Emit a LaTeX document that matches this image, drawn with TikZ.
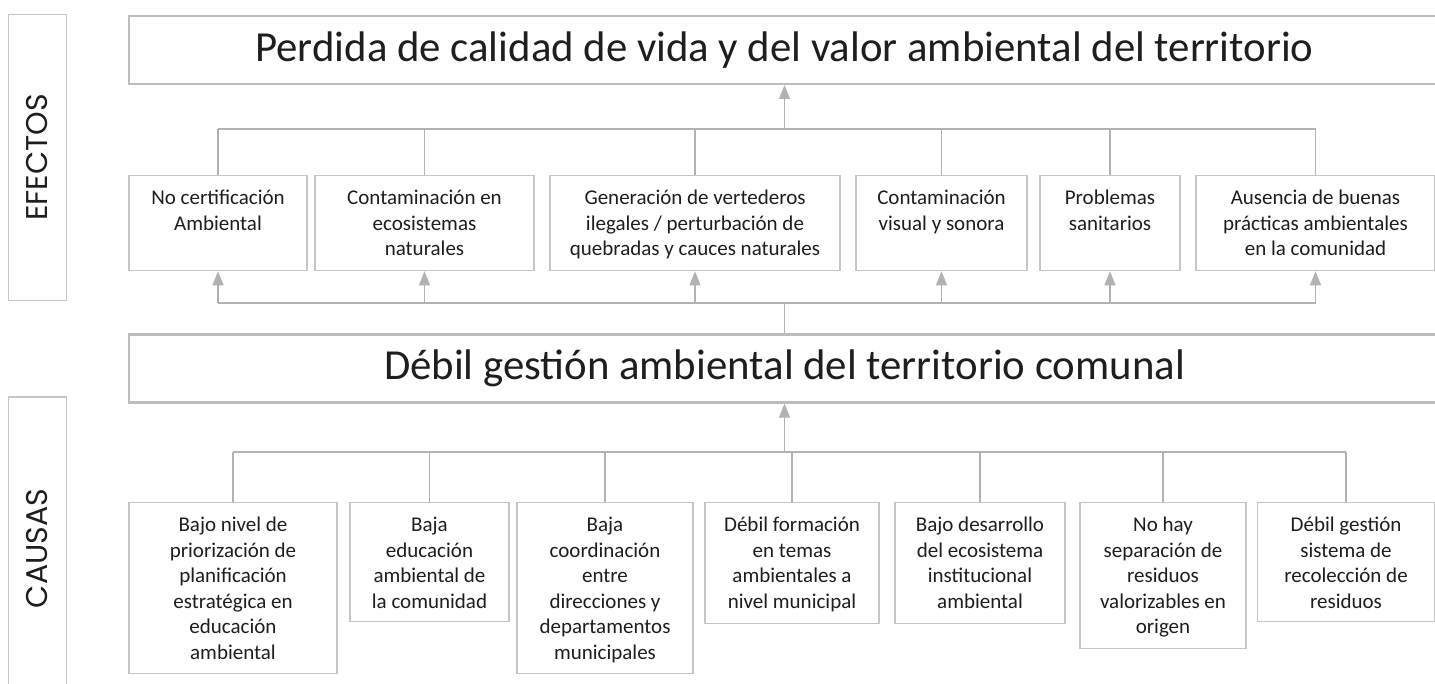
\documentclass[tikz,border=0pt]{standalone}
\usepackage{fontspec}
\setmainfont{Carlito}
\newfontfamily\lblfont{Poppins}
\usetikzlibrary{arrows.meta}
\definecolor{boxc}{HTML}{C6C6C6}
\definecolor{bigc}{HTML}{BDBDBD}
\definecolor{linec}{HTML}{B2B2B2}
\definecolor{txtc}{HTML}{1E1E1E}
\newcommand\bx[3]{\parbox[c][#2pt][t]{#1pt}{\centering\fontsize{21}{25.5}\selectfont\rule{0pt}{29pt}#3}}
\tikzset{
  smallbox/.style={draw=boxc, line width=1.3pt, anchor=north, inner sep=0pt, text=txtc},
  bigbox/.style={draw=bigc, line width=2.2pt, inner sep=0pt, minimum width=1311pt, minimum height=68pt, text=txtc, font=\fontsize{42.8}{48}\selectfont},
  sidebox/.style={draw=boxc, line width=1.3pt, inner sep=0pt, rotate=90, minimum height=58pt, text=txtc, font=\lblfont\fontsize{30}{34}\selectfont},
  conn/.style={draw=linec, line width=1.3pt},
  arr/.style={draw=linec, line width=1.3pt, -{Triangle[width=11pt,length=14pt,fill=linec]}}
}
\begin{document}
\begin{tikzpicture}[x=1pt,y=-1pt]
\useasboundingbox[fill=white] (0,0) rectangle (1435,684);
% side labels
\node[sidebox, minimum width=286pt] (ef) at (37.5,157.5) {EFECTOS};
\node[sidebox, minimum width=303pt] (ca) at (37.5,548.5) {CAUSAS};
% big boxes
\node[bigbox] (T) at (784.5,50) {Perdida de calidad de vida y del valor ambiental del territorio};
\node[bigbox] (D) at (784.5,368.5) {Débil gestión ambiental del territorio comunal};
% effects
\node[smallbox] (E1) at (218,175) {\bx{178}{95}{No certificación\\Ambiental}};
\node[smallbox] (E2) at (424.5,175) {\bx{219}{95}{Contaminación en\\ecosistemas\\naturales}};
\node[smallbox] (E3) at (695,175) {\bx{290}{95}{Generación de vertederos\\ilegales / perturbación de\\quebradas y cauces naturales}};
\node[smallbox] (E4) at (941.5,175) {\bx{171}{95}{Contaminación\\visual y sonora}};
\node[smallbox] (E5) at (1110,175) {\bx{140}{95}{Problemas\\sanitarios}};
\node[smallbox] (E6) at (1315.5,175) {\bx{239}{95}{Ausencia de buenas\\prácticas ambientales\\en la comunidad}};
% causes
\node[smallbox] (C1) at (233,502) {\bx{208}{171}{Bajo nivel de\\priorización de\\planificación\\estratégica en\\educación\\ambiental}};
\node[smallbox] (C2) at (429.5,502) {\bx{159}{119}{Baja\\educación\\ambiental de\\la comunidad}};
\node[smallbox] (C3) at (605,502) {\bx{176}{171}{Baja\\coordinación\\entre\\direcciones y\\departamentos\\municipales}};
\node[smallbox] (C4) at (792,502) {\bx{174}{121}{Débil formación\\en temas\\ambientales a\\nivel municipal}};
\node[smallbox] (C5) at (980,502) {\bx{170}{121}{Bajo desarrollo\\del ecosistema\\institucional\\ambiental}};
\node[smallbox] (C6) at (1163,502) {\bx{166}{146}{No hay\\separación de\\residuos\\valorizables en\\origen}};
\node[smallbox] (C7) at (1346,502) {\bx{177}{119}{Débil gestión\\sistema de\\recolección de\\residuos}};
% bars
\coordinate (topbar) at (0,129);
\coordinate (midbar) at (0,303);
\coordinate (cbar) at (0,452);
% effects -> top
\foreach \e in {E1,E2,E3,E4,E5,E6}{
  \draw[conn] (\e.north) -- (\e.north |- topbar);
  \draw[arr] (\e.south |- midbar) -- (\e.south);
}
\draw[conn] (E1.north |- topbar) -- (E6.north |- topbar);
\draw[arr] (T.south |- topbar) -- (T.south);
\draw[conn] (E1.south |- midbar) -- (E6.south |- midbar);
\draw[conn] (D.north) -- (D.north |- midbar);
% causes
\foreach \c in {C1,C2,C3,C4,C5,C6,C7}{
  \draw[conn] (\c.north) -- (\c.north |- cbar);
}
\draw[conn] (C1.north |- cbar) -- (C7.north |- cbar);
\draw[arr] (D.south |- cbar) -- (D.south);
\end{tikzpicture}
\end{document}
